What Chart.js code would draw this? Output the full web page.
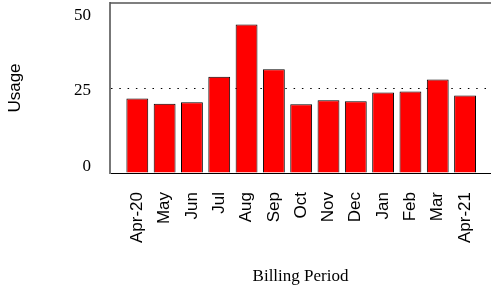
<!DOCTYPE html>
<html lang="en">
<head>
  <meta charset="UTF-8" />
  <title>Usage by billing period</title>
  <script src="https://cdn.jsdelivr.net/npm/chart.js@4"></script>
  <style>
    html, body { margin: 0; padding: 0; background: #fff; }
    #wrap { width: 491px; height: 290px; }
  </style>
</head>
<body>
  <div id="wrap"><canvas id="myChart" width="491" height="290"></canvas></div>

  <script>
    // values
    const periods = ['Apr-20', 'May', 'Jun', 'Jul', 'Aug', 'Sep', 'Oct', 'Nov', 'Dec', 'Jan', 'Feb', 'Mar', 'Apr-21'];
    const usage = [21.9, 20.4, 20.8, 28.3, 43.7, 30.5, 20.2, 21.4, 21.1, 23.7, 24.0, 27.5, 22.8];
    const yTicks = [0, 25, 50];

    // top frame line like the original plot box
    const frameLine = {
      id: 'frameLine',
      afterDraw(chart) {
        const { ctx, chartArea } = chart;
        ctx.save();
        ctx.strokeStyle = '#555';
        ctx.lineWidth = 1.5;
        ctx.beginPath();
        ctx.moveTo(chartArea.left, chartArea.top);
        ctx.lineTo(chartArea.right, chartArea.top);
        ctx.stroke();
        ctx.restore();
      }
    };

    const ctx = document.getElementById('myChart').getContext('2d');
    const myChart = new Chart(ctx, {
      type: 'bar',
      data: {
        datasets: [{
          label: 'Usage',
          data: usage.map((v, i) => ({ x: i, y: v })),
          backgroundColor: '#ff0000',
          borderColor: '#000',
          borderWidth: 1,
          barPercentage: 1,
          categoryPercentage: 0.8
        }]
      },
      options: {
        responsive: false,
        animation: false,
        layout: { padding: { top: 3, right: 0, bottom: 0, left: 0 } },
        plugins: { legend: { display: false }, tooltip: { enabled: false } },
        scales: {
          x: {
            type: 'linear',
            offset: false,
            min: -1,
            max: 12.95,
            afterBuildTicks: s => { s.ticks = periods.map((p, i) => ({ value: i })); },
            afterFit: s => { s.height = 117; },
            grid: {
              offset: false,
              drawOnChartArea: false,
              drawTicks: true,
              tickLength: 19,
              tickColor: 'rgba(0,0,0,0)'
            },
            border: { color: '#000', width: 1 },
            ticks: {
              autoSkip: false,
              minRotation: 90,
              maxRotation: 90,
              padding: 0,
              color: '#000',
              font: { family: 'Liberation Sans', size: 17 },
              callback: v => periods[v] ?? ''
            },
            title: {
              display: true,
              text: 'Billing Period',
              color: '#000',
              font: { family: 'Liberation Serif', size: 17 },
              padding: { top: 4, bottom: 3 }
            }
          },
          y: {
            min: 0,
            max: 50,
            weight: 1,
            afterFit: s => { s.width = 0; },
            ticks: { display: false, stepSize: 25 },
            grid: {
              drawTicks: false,
              color: c => c.tick && c.tick.value === 25 ? '#000' : 'rgba(0,0,0,0)',
              lineWidth: 1
            },
            border: { color: '#777', width: 2, dash: [1.5, 6.8] }
          },
          yLab: {
            position: 'left',
            weight: 2,
            min: -2.2,
            max: 54.2,
            afterBuildTicks: s => { s.ticks = yTicks.map(v => ({ value: v })); },
            afterFit: s => { s.width = 110; },
            grid: {
              drawOnChartArea: false,
              drawTicks: true,
              tickLength: 19,
              color: 'rgba(0,0,0,0)',
              tickColor: 'rgba(0,0,0,0)'
            },
            border: { display: false },
            ticks: {
              padding: 0,
              color: '#000',
              font: { family: 'Liberation Serif', size: 17, lineHeight: 0.3 }
            },
            title: {
              display: true,
              text: 'Usage',
              color: '#000',
              font: { family: 'Liberation Sans', size: 17 },
              padding: { top: 5, bottom: 0 }
            }
          }
        }
      },
      plugins: [frameLine]
    });
  </script>
</body>
</html>
